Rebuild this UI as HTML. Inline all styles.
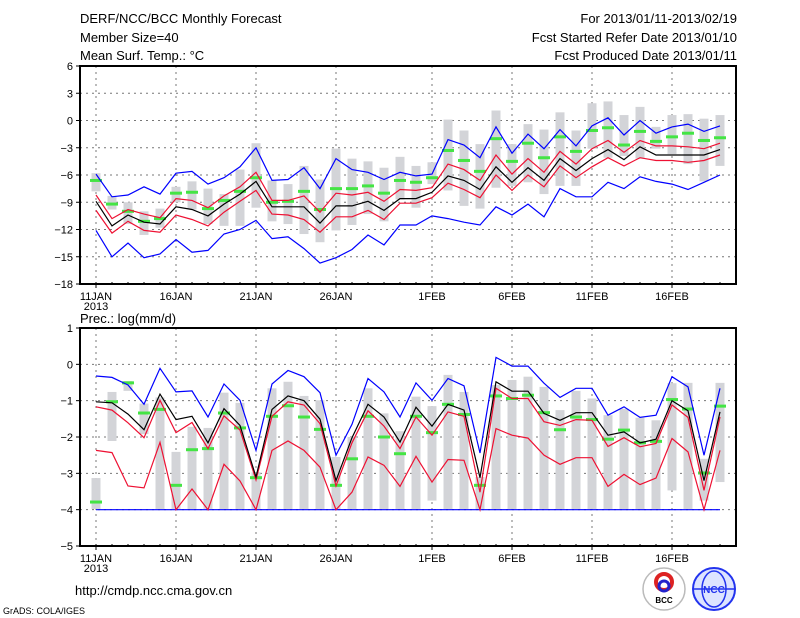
<!DOCTYPE html>
<html><head><meta charset="utf-8"><style>
html,body{margin:0;padding:0;background:#fff;}
svg{display:block;}
text{font-family:"Liberation Sans",sans-serif;fill:#000;}
</style></head><body>
<svg id="c" width="800" height="618" viewBox="0 0 800 618" xmlns="http://www.w3.org/2000/svg">
<text x="80" y="23" font-size="13">DERF/NCC/BCC Monthly Forecast</text>
<text x="80" y="42" font-size="13">Member Size=40</text>
<text x="80" y="60" font-size="13">Mean Surf. Temp.: °C</text>
<text x="737" y="23" font-size="13" text-anchor="end">For 2013/01/11-2013/02/19</text>
<text x="737" y="42" font-size="13" text-anchor="end">Fcst Started Refer Date 2013/01/10</text>
<text x="737" y="60" font-size="13" text-anchor="end">Fcst Produced Date 2013/01/11</text>
<text x="80" y="323" font-size="13">Prec.: log(mm/d)</text>
<text x="75" y="595" font-size="13">http://cmdp.ncc.cma.gov.cn</text>
<text x="3" y="614" font-size="9">GrADS: COLA/IGES</text>
<g>
<circle cx="664" cy="589" r="21" fill="#fff" stroke="#bbb" stroke-width="1.5"/>
<circle cx="664" cy="582" r="8" fill="none" stroke="#d22" stroke-width="4"/>
<circle cx="664" cy="586" r="5" fill="none" stroke="#22c" stroke-width="3"/>
<text x="664" y="603" font-size="8" text-anchor="middle" font-weight="bold">BCC</text>
</g>
<g>
<circle cx="714" cy="589" r="21" fill="#dde4ff" stroke="#23e" stroke-width="2"/>
<ellipse cx="714" cy="589" rx="12" ry="18" fill="none" stroke="#23e" stroke-width="1.5"/>
<line x1="694" y1="589" x2="734" y2="589" stroke="#23e" stroke-width="1.5"/>
<text x="714" y="593" font-size="10" text-anchor="middle" font-weight="bold" fill="#23e" style="fill:#23e">NCC</text>
</g>
</svg>
<script>
// ---- shared categories ----
const dateLabels = ["11JAN","16JAN","21JAN","26JAN","1FEB","6FEB","11FEB","16FEB"];
const dateLabelDays = [0,5,10,15,21,26,31,36];
const nDays = 40;
// ---- top panel: temperature ----
const tTicks = [6,3,0,-3,-6,-9,-12,-15,-18];
const tMean = [-8.9,-11.6,-10.4,-11.2,-11.4,-9.5,-9.8,-10.5,-9.2,-8.1,-6.7,-9.5,-9.5,-9.5,-11.3,-9.4,-9.4,-8.9,-9.9,-8.6,-8.6,-7.9,-6.1,-6.6,-7.6,-5.1,-6.8,-5.2,-6.6,-4.2,-5.5,-4.2,-3.2,-4.3,-2.9,-3.8,-3.8,-3.8,-3.8,-3.2];
const tRedHi = [-8.2,-10.8,-9.8,-10.3,-10.7,-8.6,-8.8,-9.6,-8.3,-7.3,-5.7,-8.8,-8.8,-8.3,-10.1,-8.0,-8.2,-7.9,-8.9,-7.6,-7.7,-7.4,-4.8,-5.4,-6.6,-3.8,-5.9,-4.2,-5.7,-3.4,-4.8,-3.1,-2.2,-3.5,-2.2,-2.8,-2.8,-2.9,-3.1,-2.5];
const tRedLo = [-9.9,-12.4,-11.1,-12.1,-12.3,-10.4,-10.9,-11.6,-10.1,-8.9,-7.7,-10.3,-10.4,-10.9,-12.3,-10.6,-10.6,-9.9,-10.9,-9.1,-9.1,-8.5,-6.9,-7.6,-8.5,-6.0,-7.7,-6.0,-7.3,-5.0,-6.3,-5.1,-4.1,-5.0,-4.1,-4.4,-4.4,-4.6,-4.4,-3.8];
const tBlueHi = [-5.9,-8.4,-8.2,-7.3,-8.1,-5.8,-5.6,-7.0,-6.3,-5.1,-3.0,-6.6,-6.5,-5.2,-7.5,-4.2,-5.4,-5.7,-6.5,-5.7,-6.1,-5.9,-2.1,-2.7,-4.1,-0.7,-3.6,-1.5,-3.1,-1.0,-2.8,-0.6,0.3,-1.6,0.0,-1.4,-0.7,-0.4,-1.2,-0.6];
const tBlueLo = [-12.1,-15.0,-13.5,-15.1,-14.7,-13.1,-14.5,-14.3,-12.5,-12.0,-11.0,-13.0,-12.8,-14.1,-15.7,-15.1,-14.2,-12.6,-13.7,-11.5,-11.5,-10.5,-10.8,-11.2,-11.5,-9.5,-10.4,-9.2,-10.6,-7.5,-8.4,-8.4,-6.8,-7.5,-6.2,-6.7,-7.0,-7.6,-6.8,-6.0];
const tBarTop = [-5.8,-8.3,-9.0,-10.0,-9.7,-7.3,-6.7,-7.5,-8.1,-5.4,-2.5,-6.6,-7.0,-5.0,-6.5,-3.1,-4.2,-4.5,-5.2,-4.0,-5.0,-4.6,0.1,-1.1,-2.6,1.1,-2.6,-0.4,-1.0,0.9,-1.1,1.9,2.1,0.6,1.5,-0.7,0.6,0.7,0.2,0.6];
const tBarBot = [-7.8,-9.8,-11.4,-12.6,-11.8,-9.0,-9.8,-11.4,-11.6,-11.6,-9.6,-11.1,-11.4,-12.5,-13.4,-12.1,-11.5,-10.3,-11.1,-8.7,-9.6,-7.0,-7.7,-9.4,-9.7,-7.4,-7.2,-6.8,-8.1,-7.2,-7.2,-3.1,-4.1,-3.9,-4.2,-3.1,-3.7,-4.8,-6.7,-5.0];
const tGreen = [-6.6,-9.2,-10.0,-11.1,-10.8,-8.0,-7.9,-9.7,-8.8,-7.8,-6.3,-9.0,-8.9,-7.8,-9.8,-7.5,-7.5,-7.2,-8.0,-6.6,-6.8,-6.3,-3.3,-4.4,-5.6,-2.0,-4.5,-2.5,-4.1,-1.8,-3.4,-1.1,-0.8,-2.7,-1.2,-2.3,-1.8,-1.4,-2.2,-1.9];
// ---- bottom panel: precipitation ----
const pTicks = [1,0,-1,-2,-3,-4,-5];
const pMean = [-1.03,-1.06,-1.37,-1.80,-0.82,-1.52,-1.43,-2.16,-1.22,-1.68,-3.10,-1.24,-0.87,-1.00,-1.51,-3.20,-2.02,-1.10,-1.45,-2.14,-1.18,-1.70,-1.10,-1.26,-3.12,-0.48,-0.74,-0.74,-1.35,-1.54,-1.33,-1.33,-1.95,-1.86,-2.16,-2.06,-1.00,-1.28,-3.20,-1.31];
const pRedHi = [-1.17,-1.26,-1.61,-2.02,-0.99,-1.88,-1.60,-2.32,-1.42,-1.81,-3.18,-1.43,-1.03,-1.12,-1.63,-3.35,-2.16,-1.28,-1.70,-2.32,-1.45,-1.95,-1.31,-1.43,-3.52,-0.66,-0.94,-0.94,-1.58,-1.68,-1.52,-1.54,-2.26,-2.02,-2.27,-2.18,-1.12,-1.46,-3.47,-1.45];
const pRedLo = [-2.37,-2.43,-3.35,-3.40,-2.15,-4.0,-3.43,-4.0,-2.75,-3.21,-4.0,-2.37,-2.11,-2.37,-2.83,-4.0,-3.52,-2.55,-2.78,-3.36,-2.53,-3.24,-2.62,-2.64,-4.0,-1.77,-1.95,-2.03,-2.50,-2.75,-2.57,-2.57,-3.36,-3.03,-3.31,-3.13,-2.04,-2.41,-4.0,-2.37];
const pBlueHi = [-0.32,-0.36,-0.57,-1.10,-0.11,-0.76,-0.73,-1.45,-0.54,-0.99,-2.37,-0.54,-0.17,-0.34,-0.78,-2.50,-1.65,-0.39,-0.76,-1.45,-0.51,-0.99,-0.39,-0.59,-2.44,0.19,-0.05,-0.05,-0.52,-0.91,-0.66,-0.66,-1.40,-1.17,-1.46,-1.40,-0.34,-0.62,-2.50,-0.66];
const pBlueLoValue = -4;
const pBarTop = [-3.13,-0.76,-0.46,-1.08,-0.91,-2.41,-1.72,-1.75,-0.78,-1.06,-2.97,-0.66,-0.48,-0.87,-0.99,-2.55,-2.0,-0.66,-1.35,-1.84,-0.89,-1.15,-0.29,-0.76,-3.1,-0.57,-0.43,-0.34,-0.62,-1.26,-0.73,-0.94,-1.40,-1.22,-1.47,-1.54,-0.52,-0.51,-2.6,-0.51];
const pBarBot = [-3.98,-2.11,-0.73,-1.92,-3.98,-3.98,-3.98,-3.98,-3.98,-3.98,-3.98,-3.98,-3.98,-3.98,-3.98,-3.98,-3.98,-3.98,-3.98,-3.98,-3.98,-3.75,-3.98,-3.98,-3.98,-3.98,-3.98,-3.98,-3.98,-3.98,-3.98,-3.98,-3.98,-3.98,-3.98,-3.98,-3.47,-3.98,-3.75,-3.24];
const pGreen = [-3.79,-1.03,-0.51,-1.34,-1.24,-3.33,-2.35,-2.32,-1.34,-1.75,-3.12,-1.43,-1.14,-1.45,-1.79,-3.33,-2.6,-1.43,-2.0,-2.46,-1.43,-1.88,-1.10,-1.38,-3.33,-0.87,-0.94,-0.85,-1.33,-1.80,-1.45,-1.52,-2.06,-1.81,-2.16,-2.12,-0.97,-1.23,-2.99,-1.15];

const NS="http://www.w3.org/2000/svg";
const svg=document.getElementById('c');
const L=80,R=736;
function xDay(i){return 96+16*i;}
function mk(tag,attrs,parent){const e=document.createElementNS(NS,tag);for(const k in attrs)e.setAttribute(k,attrs[k]);(parent||svg).appendChild(e);return e;}

function panel(name,top,bot,vmax,vmin,ticks,bars,greens,lines,showYear){
  const y=v=>top+(vmax-v)/(vmax-vmin)*(bot-top);
  const g=mk('g',{});
  
  
  // grid
  ticks.forEach(t=>{ if(t===vmax||t===vmin) return;
    const l=mk('line',{x1:L,x2:R,y1:y(t),y2:y(t),stroke:'#777','stroke-dasharray':'2,4','stroke-width':1},g);
    
    
  });
  dateLabelDays.forEach(d=>{
    const l=mk('line',{x1:xDay(d),x2:xDay(d),y1:top,y2:bot,stroke:'#777','stroke-dasharray':'2,4','stroke-width':1},g);
    
    
  });
  // bars
  for(let i=0;i<nDays;i++){
    const a=y(bars[0][i]),b=y(bars[1][i]);
    const r=mk('rect',{x:xDay(i)-4.5,y:Math.min(a,b),width:9,height:Math.abs(b-a),fill:'#d3d4d8'},g);
    
    
  }
  for(let i=0;i<nDays;i++){
    const r=mk('rect',{x:xDay(i)-6,y:y(greens[i])-1.5,width:12,height:3,fill:'#44e444'},g);
    
    
  }
  lines.forEach(([arr,col,nm])=>{
    const pts=arr.map((v,i)=>xDay(i)+','+y(v).toFixed(1)).join(' ');
    const p=mk('polyline',{points:pts,fill:'none',stroke:col,'stroke-width':1.2},g);
    
    
  });
  // frame
  const f=mk('rect',{x:L,y:top,width:R-L,height:bot-top,fill:'none',stroke:'#000','stroke-width':2},g);
  
  
  // y ticks
  ticks.forEach(t=>{
    mk('line',{x1:L-4,x2:L,y1:y(t),y2:y(t),stroke:'#000'},g);
    const tx=mk('text',{x:L-7,y:y(t)+4,'font-size':11,'text-anchor':'end'},g);
    tx.textContent=(t<0?'\u2212'+(-t):t);
    
    
  });
  // x ticks
  for(let i=0;i<nDays;i++){ mk('line',{x1:xDay(i),x2:xDay(i),y1:bot,y2:bot-2,stroke:'#000'},g); }
  dateLabels.forEach((lab,k)=>{
    const d=dateLabelDays[k];
    mk('line',{x1:xDay(d),x2:xDay(d),y1:bot,y2:bot+4,stroke:'#000'},g);
    const tx=mk('text',{x:xDay(d),y:bot+16,'font-size':11,'text-anchor':'middle'},g);
    tx.textContent=lab;
    
    
  });
  const yr=mk('text',{x:xDay(0),y:bot+26,'font-size':11,'text-anchor':'middle'},g);
  yr.textContent='2013';
  
  
}
panel('temperature-panel',66,284,6,-18,tTicks,[tBarTop,tBarBot],tGreen,
  [[tBlueHi,'#0000ff','blue-upper-line'],[tBlueLo,'#0000ff','blue-lower-line'],[tRedHi,'#ee1133','red-upper-line'],[tRedLo,'#ee1133','red-lower-line'],[tMean,'#000000','ensemble-mean-line']]);
panel('precipitation-panel',328,546,1,-5,pTicks,[pBarTop,pBarBot],pGreen,
  [[pBlueHi,'#0000ff','blue-upper-line'],[pBlueHi.map(()=>pBlueLoValue),'#0000ff','blue-lower-line'],[pRedHi,'#ee1133','red-upper-line'],[pRedLo,'#ee1133','red-lower-line'],[pMean,'#000000','ensemble-mean-line']]);
</script>
</body></html>
